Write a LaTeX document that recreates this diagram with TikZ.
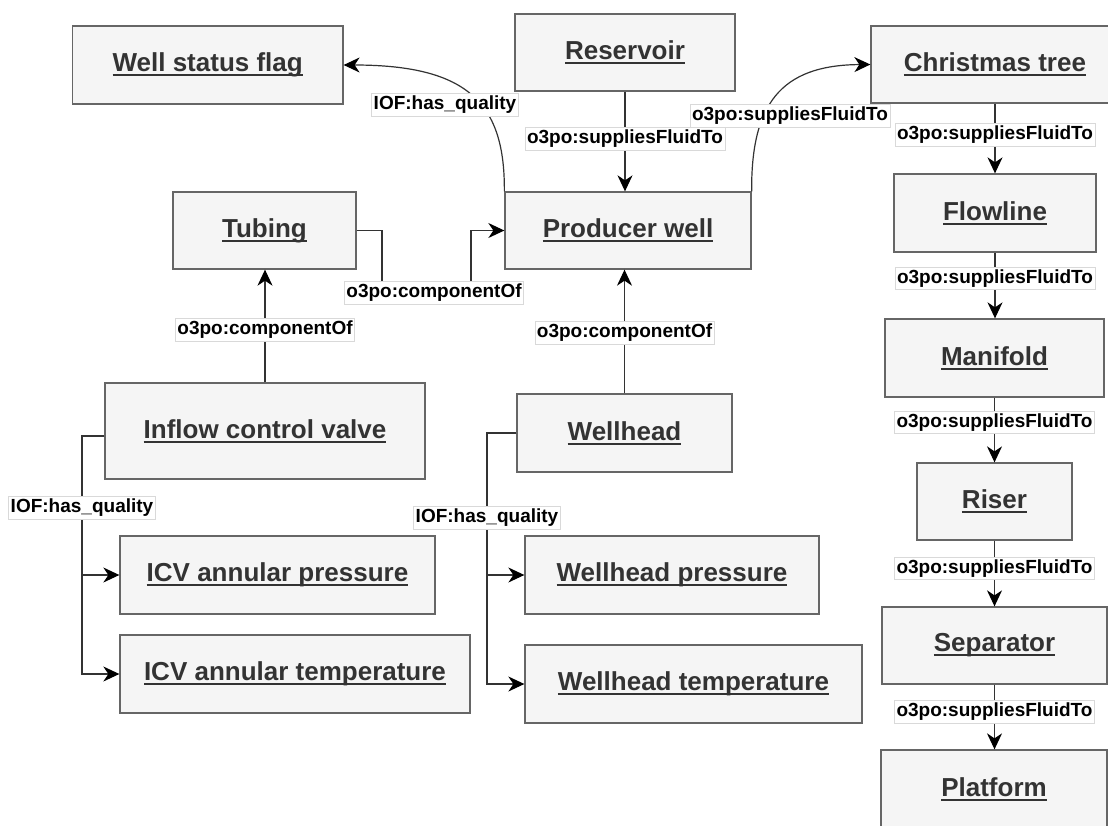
\documentclass[tikz,border=0pt]{standalone}
\usepackage{fontspec}
\setmainfont{Liberation Sans}
\usetikzlibrary{arrows.meta}
\definecolor{boxfill}{HTML}{F5F5F5}
\definecolor{boxline}{HTML}{666666}
\definecolor{txt}{HTML}{333333}
\definecolor{edgec}{HTML}{333333}
\newcommand\ulin[1]{\setbox0=\hbox{#1}\rlap{\rule[-4.4pt]{\wd0}{2pt}}\box0}
\begin{document}
\begin{tikzpicture}[x=1pt,y=-1pt,
  box/.style={draw=boxline, fill=boxfill, line width=1.3pt, text=txt,
    font=\fontsize{26}{30}\selectfont\bfseries, inner sep=0pt, align=center},
  edge/.style={draw=edgec, line width=1.2pt, -{Stealth[length=16pt,width=15pt,inset=5pt,color=black]}},
  lbl/.style={fill=white, draw=black!15, line width=0.5pt,
    font=\fontsize{19}{22}\selectfont\bfseries, text=black,
    inner xsep=2pt, inner ysep=2.5pt, text height=13.8pt, text depth=4pt}]
\useasboundingbox (0,0) rectangle (1108,825);

% boxes
\node[box, minimum width=270.5pt, minimum height=78pt] (wsf) at (207.7,65) {\ulin{Well status flag}};
\node[box, minimum width=220pt, minimum height=77pt] (res) at (625,52.5) {\ulin{Reservoir}};
\node[box, minimum width=248pt, minimum height=77pt] (ct) at (995,64.5) {\ulin{Christmas tree}};
\node[box, minimum width=183pt, minimum height=77pt] (tub) at (264.5,230.5) {\ulin{Tubing}};
\node[box, minimum width=246pt, minimum height=77pt] (pw) at (628,230.5) {\ulin{Producer well}};
\node[box, minimum width=202pt, minimum height=78pt] (flow) at (995,213) {\ulin{Flowline}};
\node[box, minimum width=219pt, minimum height=78pt] (man) at (994.5,358) {\ulin{Manifold}};
\node[box, minimum width=320pt, minimum height=96pt] (icv) at (265,431) {\ulin{Inflow control valve}};
\node[box, minimum width=215pt, minimum height=78pt] (wh) at (624.5,433) {\ulin{Wellhead}};
\node[box, minimum width=155pt, minimum height=77pt] (riser) at (994.5,501.5) {\ulin{Riser}};
\node[box, minimum width=315pt, minimum height=78pt] (icvp) at (277.5,575) {\ulin{ICV annular pressure}};
\node[box, minimum width=294pt, minimum height=78pt] (whp) at (672,575) {\ulin{Wellhead pressure}};
\node[box, minimum width=225pt, minimum height=77pt] (sep) at (994.5,645.5) {\ulin{Separator}};
\node[box, minimum width=350pt, minimum height=78pt] (icvt) at (295,674) {\ulin{ICV annular temperature}};
\node[box, minimum width=337pt, minimum height=78pt] (wht) at (693.5,684) {\ulin{Wellhead temperature}};
\node[box, minimum width=226pt, minimum height=78pt] (plat) at (994,789) {\ulin{Platform}};

% edges
\draw[edge] (res.south) -- node[lbl,pos=0.47]{o3po:suppliesFluidTo} (res.south |- pw.north);
\draw[edge] (pw.north east) .. controls (751,105) and (780,65) .. (ct.west);
\draw[edge] (pw.north west) .. controls (505,105) and (470,65) .. (wsf.east);
\node[lbl] (lq1) at (445,105) {IOF:has\_quality};
\node[lbl] (ls1) at (790,116) {o3po:suppliesFluidTo};

\draw[edge] (tub.east) -- (382,230.5) -- (382,293) -- (471,293) -- (471,230.5) -- (pw.west);
\node[lbl] (lc1) at (434,293) {o3po:componentOf};

\draw[edge] (icv.north) -- node[lbl,pos=0.47]{o3po:componentOf} (icv.north |- tub.south);
\draw[edge] (wh.north) -- node[lbl,pos=0.49]{o3po:componentOf} (wh.north |- pw.south);

\draw[edge] ([yshift=-5pt]icv.west) -- (82,436) |- (icvp.west);
\draw[edge] ([yshift=-5pt]icv.west) -- (82,436) |- (icvt.west);
\node[lbl] (lq2) at (82,508) {IOF:has\_quality};

\draw[edge] (wh.west) -- (487,433) |- (whp.west);
\draw[edge] (wh.west) -- (487,433) |- (wht.west);
\node[lbl] (lq3) at (487,518) {IOF:has\_quality};

\draw[edge] (ct.south) -- node[lbl,pos=0.45]{o3po:suppliesFluidTo} (ct.south |- flow.north);
\draw[edge] (flow.south) -- node[lbl,pos=0.39]{o3po:suppliesFluidTo} (flow.south |- man.north);
\draw[edge] (man.south) -- node[lbl,pos=0.38]{o3po:suppliesFluidTo} (man.south |- riser.north);
\draw[edge] (riser.south) -- node[lbl,pos=0.42]{o3po:suppliesFluidTo} (riser.south |- sep.north);
\draw[edge] (sep.south) -- node[lbl,pos=0.42]{o3po:suppliesFluidTo} (sep.south |- plat.north);
\end{tikzpicture}
\end{document}
